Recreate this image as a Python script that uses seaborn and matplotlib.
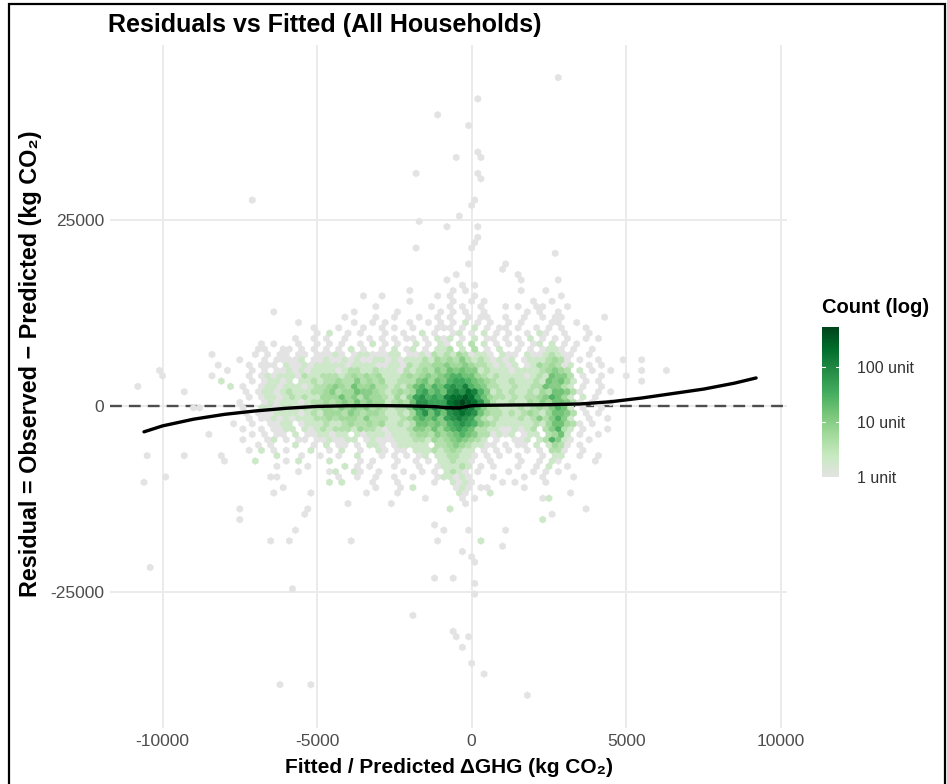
import numpy as np
import pandas as pd
import matplotlib
matplotlib.use("Agg")
import matplotlib.pyplot as plt
from matplotlib.colors import LinearSegmentedColormap, LogNorm
from matplotlib.patches import Rectangle
import seaborn as sns

# ---------------------------------------------------------------------------
# Hex-binned household residuals.
# Each string is one row of hexagons; moving right adds 200 kg CO2 to the
# fitted value.  '.' is an empty cell, other symbols are count levels.
# ---------------------------------------------------------------------------
FITTED_START = -10800.0
FITTED_STEP = 200.0
RESID_BASE = 507.0
RESID_STEP = 716.5

LEVEL_COUNTS = {"1": 1, "2": 2, "3": 4, "4": 6, "5": 10, "6": 16, "7": 28,
                "8": 45, "9": 75, "a": 120, "b": 200, "c": 320, "d": 535}

ROW_INDEX = list(range(21, -24, -1))
HEX_ROWS = [
    "..........|..........|..........|..........|....1.....|.1.1......|..1...1...|..........",
    "..........|..........|..........|......1..1|........1.|1...1.....|........1.|..........",
    "..........|..........|..........|..........|....1.....|.1..1.1...|....1..1..|..........",
    "..........|..........|..........|........1.|.......1..|1.1..1...1|.1..11...1|..........",
    "..........|..........|..1.......|.....1....|..1......1|.1.1..1...|...1.1..1.|..........",
    "..........|..........|..........|...1....1.|.1...1..1.|1..1.11..1|..1..1.11.|.....1....",
    "..........|..........|......1...|.....1..1.|1...1..1.1|.1.2.1.1..|1.1....11.|.1........",
    "..........|..........|........1.|..1...1..1|.1..1...11|1.1.2.1.11|.1..1.1.1.|..1.......",
    "..........|..........|.........1|.2..1.1...|1..1..2.1.|.12.1.2.1.|1..1.21..1|...1......",
    "..........|..........|.....1..1.|1..1...1.1|.1.11.1.21|2.1.2.11.1|.1.2.1.1.1|..1.1.....",
    "..........|..........|1.1...1..1|.1.1..1.2.|1.1..2.1.2|1.2.3.2.1.|1.1.12.2.1|.1........",
    "..........|.........1|1..11.1.1.|1.1.2.1..1|.2.12.1.22|3.2.3.1.2.|.1.1.1221.|1..1......",
    "..........|..1......1|.1.11.11.1|1121.12211|122.112132|32431221.2|11.2112321|1..1......",
    "..........|......1...|1.11112.11|2112121122|1212223243|4353232121|2.12223431|.1..1...1.",
    "..........|...1....1.|111.211212|2222122221|1221323344|5445433212|12.1243431|2..1.1....",
    "...1......|....1...1.|1.11212122|2212332232|2213234354|6565523222|1222234543|.2.1..1...",
    "....1.....|..1.....1.|1212221322|3332343434|2223434545|6776643232|2221232655|3.1..1...1",
    "..........|...2....1.|12212.2232|3343353434|2233356465|7887654322|3222326564|2.1.1.....",
    "1.........|.....2.1..|1221222123|3454364453|3232467576|898a765332|2322336553|2.1..1....",
    ".......1..|.......1.1|2212322233|4534465543|2343478676|9a9ba75232|3223243665|31..1.1...",
    "..........|........1.|1221232322|4446453544|3242589787|abbcb86433|2323345764|2.2.1.....",
    "..........|......1...|1212221233|4345464544|2343699888|bcdcb96322|3224354665|31.1..1...",
    ".........1|1......1..|2212222323|4435454534|3233589797|abcba75332|2232343576|2.1..1....",
    "..........|.......1.1|1122221232|4443543443|2232479686|9aba964332|3234324665|3.1.1.....",
    "..........|........1.|1121212223|3434443533|3223467675|89a9853232|2232353575|2..1..1...",
    "..........|.....1..1.|.1122.1222|3223433434|2232366565|7898754322|2222324664|31.1......",
    "..........|.......1..|1.1122.212|3233324332|1222355464|6787633221|12123.3573|2.1...1...",
    "..........|.1......1.|1.11.2.112|2122.21222|1222344354|5676533121|2.122.3462|.1..1.....",
    "..........|.......1..|.12.1.11.1|121122.121|1122233243|4565432.1.|.112.23752|1..1......",
    "..........|.........1|.1...2..1.|2.11.1.221|.122222.33|45432211.1|.11.2.2431|.1........",
    "..........|........1.|2.1.1...2.|.1.2..1..2|1.11.22232|34322.1.1.|1..1.1.331|..1.......",
    ".1.....1..|...1......|..2...1..1|..1..2...1|.1.1.12.22|33221.1.1.|.1...1.22.|.1..1.....",
    "..........|....1....2|....1.2...|.2....1.1.|..1..1.1.2|23221..1..|..1..1.21.|....1.....",
    "..........|..........|..1....1..|...2.1.1..|.1...1..12|2232.1.1..|.1..1.2..1|..........",
    "..........|..........|......1...|.12..21..1|...1..1.1.|2321.1....|1...1.1.1.|..........",
    "....1.....|..........|.11.......|..1..1..1.|.1..1...12|2121...1..|..1..1....|1.........",
    ".1........|..........|..........|.2.2....1.|..1.....1.|.2121....1|.1....1...|..........",
    "..........|..........|...1......|........1.|..1.2.....|.121.11...|..1.......|..........",
    "..........|..........|..1.....1.|.......1..|..1.......|..21...2..|..........|1.........",
    "..........|..........|..........|..........|......1...|..1.1.....|.....12...|..........",
    "..........|..........|..........|....1.....|.1........|...1......|..........|..........",
    "..........|......1...|.......1..|..........|..........|2.........|..........|..1.......",
    "..........|..........|.......1..|..........|..........|..........|.......1..|..........",
    "..........|......1...|..........|..........|..........|..........|.....2....|..........",
    "..........|..........|..........|..........|........1.|..........|..........|..........",
]

# Isolated households away from the main cloud (fitted, residual, count)
OUTLIER_FITTED = [2781, 187, -1110, -115, 187, 288, -519, -1801, 187, 288,
                  -7090, 86, -14, -403, -1700, -807, 187, 187, 86, -14,
                  -1801, 2680, -115, 1081, 980, -519, 1484, 1585, 2781, -807,
                  -317, 86,
                  -5692, -908, -115, 1081, -6485, -5894, -3891, -1110, 288,
                  980, -317, -14, 86, -10375, -1210, -620, 86, -5793, 86,
                  -1902, -620, -519, -115, -317, -14, 389, -6196, -5202, 1787,
                  5500, 5500, 6280, 5500]
OUTLIER_RESID = [44110, 41240, 39130, 37700, 34150, 33430, 33430, 31240, 31280, 30560,
                 27690, 27690, 26970, 25540, 24820, 24100, 24100, 22670, 21950, 21230,
                 21230, 20510, 19120, 19120, 18400, 17690, 17690, 16970, 16970, 16970,
                 16250, 16250,
                 -16700, -16700, -16700, -16700, -18137, -18137, -18137, -18137, -18137,
                 -18854, -19570, -20290, -21010, -21680, -23116, -23116, -23830, -24550, -25270,
                 -28140, -30250, -30970, -30970, -32400, -34555, -35990, -37430, -37430, -38860,
                 6239, 4806, 4806, 3373]
OUTLIER_COUNT = [1] * 40 + [2] + [1] * 24

# LOESS smoother of residual on fitted value
SMOOTH_FITTED = [-10600, -10000, -9000, -8000, -7000, -6000, -5000, -4000, -3000,
                 -2000, -1200, -800, -400, 0, 400, 1500, 2500, 3500, 4500, 5500,
                 6500, 7500, 8500, 9200]
SMOOTH_RESID = [-3450, -2650, -1750, -1100, -640, -280, -30, 60, 80,
                40, -60, -200, -230, 60, 120, 170, 200, 300, 600, 1100,
                1700, 2300, 3100, 3800]

X_TICKS = [-10000, -5000, 0, 5000, 10000]
Y_TICKS = [-25000, 0, 25000]
LEGEND_TICKS = [1, 10, 100]

# ---------------------------------------------------------------------------
fitted, resid, counts = [], [], []
for row_id, row in zip(ROW_INDEX, HEX_ROWS):
    cells = row.replace("|", "")
    assert len(cells) == 80, (row_id, len(cells))
    shift = FITTED_STEP / 2 if row_id % 2 == 0 else 0.0
    for pos, ch in enumerate(cells):
        if ch == ".":
            continue
        fitted.append(FITTED_START + FITTED_STEP * pos + shift)
        resid.append(RESID_BASE + RESID_STEP * row_id)
        counts.append(LEVEL_COUNTS[ch])
fitted += OUTLIER_FITTED
resid += OUTLIER_RESID
counts += OUTLIER_COUNT
df = pd.DataFrame({"fitted": fitted, "residual": resid, "n": counts})
smooth = pd.DataFrame({"fitted": SMOOTH_FITTED, "residual": SMOOTH_RESID})

sns.set_theme(style="white")
plt.rcParams["font.family"] = ["Liberation Sans", "DejaVu Sans"]
plt.rcParams["axes.unicode_minus"] = False

W, H = 947, 784
fig = plt.figure(figsize=(W / 100, H / 100), dpi=100)
fig.patch.set_facecolor("white")
ax = fig.add_axes([110 / W, 1 - 728 / H, (787 - 110) / W, (728 - 45) / H])

greens = LinearSegmentedColormap.from_list(
    "grey_greens",
    ["#E3E3E3", "#C7E9C0", "#A1D99B", "#74C476", "#41AB5D", "#238B45", "#006D2C", "#00441B"])
norm = LogNorm(vmin=1, vmax=max(LEVEL_COUNTS.values()))

row_pitch = 2 * RESID_STEP
y_lo = RESID_BASE + RESID_STEP - 31 * row_pitch
hb = ax.hexbin(df["fitted"], df["residual"], C=df["n"], reduce_C_function=np.sum,
               gridsize=(105, 62), extent=(-11000, 10000, y_lo, y_lo + 62 * row_pitch),
               cmap=greens, norm=norm, linewidths=0.3, edgecolors="face", zorder=2)

# zero reference line sits beneath the hexagons
ax.axhline(0, color="#4D4D4D", lw=1.7, ls=(0, (5, 3)), zorder=1.5)
sns.lineplot(data=smooth, x="fitted", y="residual", color="black", lw=2.4,
             ax=ax, zorder=4, sort=True)

ax.set_xlim(-11700, 10200)
ax.set_ylim(-43300, 48600)
ax.set_xticks(X_TICKS)
ax.set_yticks(Y_TICKS)
ax.set_xticklabels([str(v) for v in X_TICKS])
ax.set_yticklabels([str(v) for v in Y_TICKS])
ax.grid(True, color="#EBEBEB", lw=1.4, zorder=0)
ax.set_axisbelow(True)
for s in ax.spines.values():
    s.set_visible(False)
ax.tick_params(axis="both", length=0, labelsize=12.5, labelcolor="#4D4D4D", pad=4)

ax.set_xlabel("Fitted / Predicted ΔGHG (kg CO₂)", fontsize=15, fontweight="bold", color="black")
ax.set_ylabel("Residual = Observed − Predicted (kg CO₂)", fontsize=16.8, fontweight="bold", color="black")
ax.xaxis.set_label_coords(0.5, -0.058)
ax.xaxis.label.set_va("center")
ax.yaxis.set_label_coords(-0.118, 0.533)
ax.yaxis.label.set_va("center")

fig.text(108 / W, 1 - 25 / H, "Residuals vs Fitted (All Households)",
         fontsize=18, fontweight="bold", ha="left", va="center", color="black")

# colour legend
cax = fig.add_axes([822 / W, 1 - 477 / H, 17 / W, 150 / H])
cb = fig.colorbar(hb, cax=cax)
cb.outline.set_visible(False)
cb.set_ticks(LEGEND_TICKS)
cb.set_ticklabels([f"{t} unit" for t in LEGEND_TICKS])
cax.minorticks_off()
cax.tick_params(length=0, labelsize=11.5, labelcolor="#333333", pad=13)
for t in LEGEND_TICKS:
    cax.plot([0, 0.2], [t, t], color="white", lw=0.8, transform=cax.get_yaxis_transform())
    cax.plot([0.8, 1], [t, t], color="white", lw=0.8, transform=cax.get_yaxis_transform())
fig.text(822 / W, 1 - 308 / H, "Count (log)", fontsize=14.5, fontweight="bold",
         ha="left", va="center", color="black")

fig.add_artist(Rectangle((9 / W, -0.02), (945 - 9) / W, 1 - 4 / H + 0.02,
                         transform=fig.transFigure, fill=False, ec="black", lw=1.6))

fig.savefig("out.png", dpi=100, facecolor="white")
